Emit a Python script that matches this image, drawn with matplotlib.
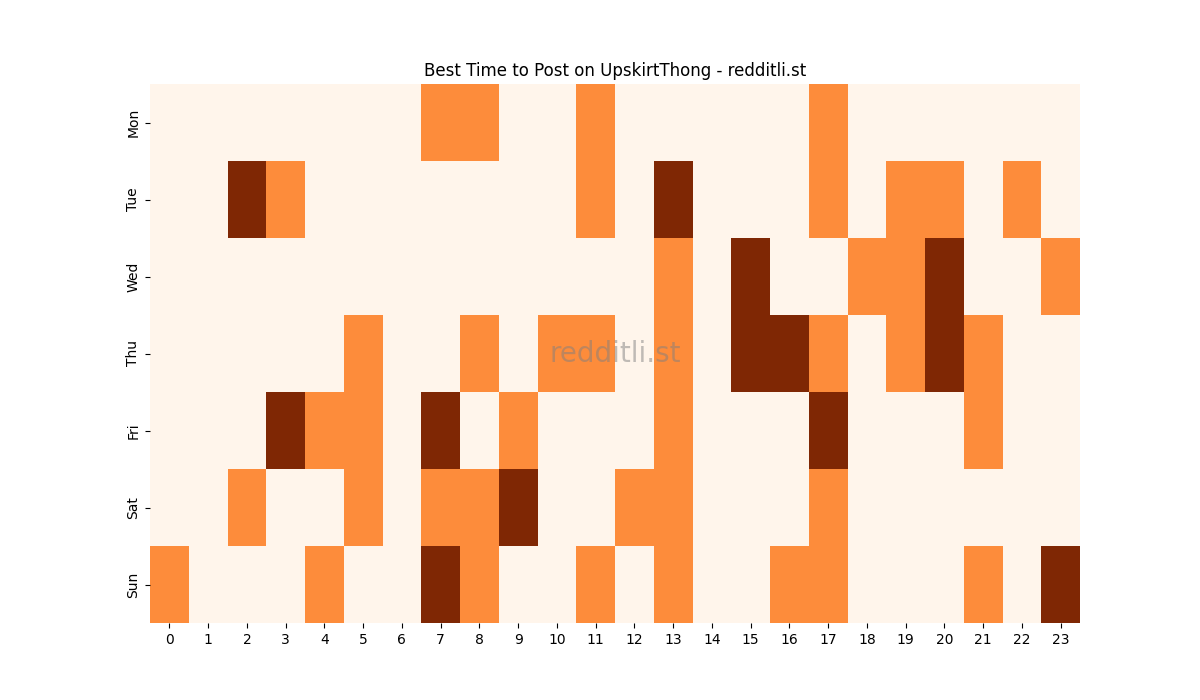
import numpy as np
import matplotlib
matplotlib.use("Agg")
import matplotlib.pyplot as plt
import seaborn as sns

days = ["Mon", "Tue", "Wed", "Thu", "Fri", "Sat", "Sun"]
hours = list(range(24))

# 0 = quiet, 1 = good, 2 = best
mon = [0,0,0,0,0,0,0,1,1,0,0,1,0,0,0,0,0,1,0,0,0,0,0,0]
tue = [0,0,2,1,0,0,0,0,0,0,0,1,0,2,0,0,0,1,0,1,1,0,1,0]
wed = [0,0,0,0,0,0,0,0,0,0,0,0,0,1,0,2,0,0,1,1,2,0,0,1]
thu = [0,0,0,0,0,1,0,0,1,0,1,1,0,1,0,2,2,1,0,1,2,1,0,0]
fri = [0,0,0,2,1,1,0,2,0,1,0,0,0,1,0,0,0,2,0,0,0,1,0,0]
sat = [0,0,1,0,0,1,0,1,1,2,0,0,1,1,0,0,0,1,0,0,0,0,0,0]
sun = [1,0,0,0,1,0,0,2,1,0,0,1,0,1,0,0,1,1,0,0,0,1,0,2]

grid = np.array([mon, tue, wed, thu, fri, sat, sun])

fig, ax = plt.subplots(figsize=(12, 7), dpi=100)
sns.heatmap(grid, cmap="Oranges", cbar=False, xticklabels=hours,
            yticklabels=days, ax=ax)
ax.set_yticklabels(days, rotation=90, va="center")
ax.set_xticklabels(hours, rotation=0)
ax.set_title("Best Time to Post on UpskirtThong - redditli.st")
ax.text(0.5, 0.5, "redditli.st", transform=ax.transAxes, fontsize=20,
        color="gray", alpha=0.5, ha="center", va="center")

fig.savefig("out.png")
